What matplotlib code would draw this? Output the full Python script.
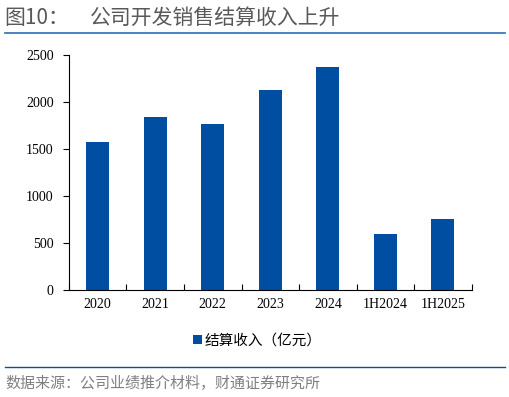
import matplotlib
matplotlib.use("Agg")
import matplotlib.pyplot as plt
from matplotlib.lines import Line2D
from matplotlib.patches import Patch

categories = ["2020", "2021", "2022", "2023", "2024", "1H2024", "1H2025"]
values = [1574, 1840, 1766, 2128, 2372, 596, 755]
yticks = [0, 500, 1000, 1500, 2000, 2500]

plt.rcParams['font.family'] = ['Noto Sans CJK SC', 'DejaVu Sans']

fig = plt.figure(figsize=(5.10, 3.97), dpi=100)
ax = fig.add_axes([0.135, 0.2695, 0.79, 0.5915])

bar_color = "#004EA2"
x = list(range(len(categories)))
ax.bar(x, values, width=0.4, color=bar_color)
ax.set_xlim(-0.5, len(categories) - 0.5)
ax.set_ylim(0, 2500)
ax.set_yticks(yticks)
ax.set_xticks([i - 0.5 for i in range(len(categories) + 1)], minor=False)
ax.set_xticklabels([])
ax.set_xticks(x, minor=True)
ax.set_xticklabels(categories, minor=True, fontfamily="Liberation Serif", fontsize=10)
ax.tick_params(axis='x', which='major', length=4, direction='in', width=0.8)
ax.tick_params(axis='x', which='minor', length=0, pad=6)
ax.tick_params(axis='y', length=4, direction='out', width=0.8, pad=7)
for lbl in ax.get_yticklabels():
    lbl.set_fontfamily("Liberation Serif")
    lbl.set_fontsize(10)
for s in ["top", "right"]:
    ax.spines[s].set_visible(False)
ax.spines["left"].set_linewidth(0.8)
ax.spines["bottom"].set_linewidth(0.8)

# legend
handles = [Patch(facecolor=bar_color, edgecolor='none')]
fig.legend(handles, ["结算收入（亿元）"], loc='center', bbox_to_anchor=(0.505, 0.142),
           frameon=False, handlelength=0.6, handleheight=0.6,
           handletextpad=0.2, prop={'family': ['Noto Sans CJK SC'], 'size': 10.5})

# title
fig.text(0.008, 0.955, "图10：", fontsize=15, color="#595959",
         va='center', ha='left')
fig.text(0.176, 0.955, "公司开发销售结算收入上升", fontsize=15,
         color="#595959", va='center', ha='left')
fig.add_artist(Line2D([0.01, 0.99], [0.917, 0.917], color="#2E6DB4", lw=1.2,
                      transform=fig.transFigure))
fig.add_artist(Line2D([0.01, 0.99], [0.076, 0.076], color="#0A4DA2", lw=1.0,
                      transform=fig.transFigure))
fig.text(0.01, 0.035, "数据来源：公司业绩推介材料，财通证券研究所", fontsize=10.8,
         color="#7F7F7F", va='center', ha='left')

fig.savefig("out.png", dpi=100)
